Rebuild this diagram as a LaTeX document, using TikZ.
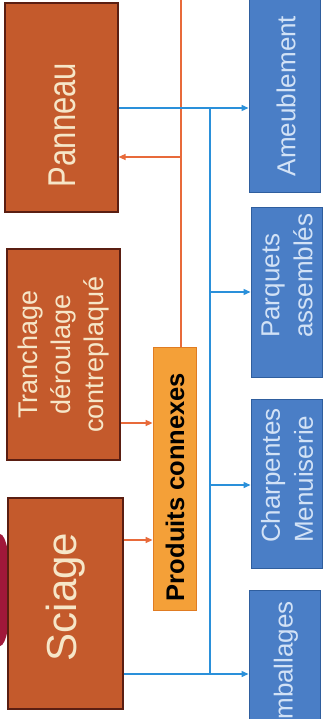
\documentclass[tikz,border=0pt]{standalone}
\usepackage{fontspec}
\setmainfont{Liberation Sans}
\usetikzlibrary{arrows.meta}
\definecolor{brownfill}{HTML}{C45A2C}
\definecolor{browndraw}{HTML}{5A1E12}
\definecolor{browntext}{HTML}{F6E6C8}
\definecolor{bluefill}{HTML}{4A7EC6}
\definecolor{bluedraw}{HTML}{2F5E9E}
\definecolor{bluetext}{HTML}{D2E2F6}
\definecolor{orfill}{HTML}{F4A038}
\definecolor{ordraw}{HTML}{E07C22}
\definecolor{bline}{HTML}{2A90DA}
\definecolor{oline}{HTML}{E86A3A}
\definecolor{blob}{HTML}{A0183A}
\tikzset{
  brownbox/.style={draw=browndraw, fill=brownfill, line width=1.2pt, inner sep=0pt},
  bluebox/.style={draw=bluedraw, fill=bluefill, line width=1pt, inner sep=0pt},
  orbox/.style={draw=ordraw, fill=orfill, line width=0.8pt, inner sep=0pt},
  browntxt/.style={rotate=90, text=browntext, align=center, font=\fontsize{27}{33}\selectfont},
  bluetxt/.style={rotate=90, text=bluetext, align=left, inner sep=0pt, font=\fontsize{26}{33}\selectfont},
  bluearrow/.style={draw=bline, line width=1.4pt, -{Triangle[length=7pt,width=6pt]}},
  orarrow/.style={draw=oline, line width=1.3pt, -{Triangle[length=7pt,width=6pt]}},
  bluelink/.style={draw=bline, line width=1.4pt},
  orlink/.style={draw=oline, line width=1.4pt}
}
\begin{document}
\begin{tikzpicture}[x=1pt,y=-1pt]
\useasboundingbox (0,0) rectangle (326,719);
\clip (0,0) rectangle (326,719);
\fill[white] (0,0) rectangle (326,719);
% fragment at left edge
\fill[blob] (0,590) ellipse [x radius=11, y radius=56];
% brown boxes
\node[brownbox, minimum width=113pt, minimum height=209pt] (panneau) at (61.5,107.5) {};
\node[browntxt] (panneautxt) at (62,125) {\scalebox{1}[1.25]{\fontsize{31}{31}\selectfont Panneau}};
\node[brownbox, minimum width=113pt, minimum height=211pt] (tranchage) at (63.5,354.5) {};
\node[browntxt] (tranchagetxt) at (tranchage.center) {Tranchage\\déroulage\\contreplaqué};
\node[brownbox, minimum width=115pt, minimum height=211pt] (sciage) at (65.5,603.5) {};
\node[browntxt] (sciagetxt) at (65.5,597) {\fontsize{42}{42}\selectfont Sciage};
% produits connexes
\node[orbox, minimum width=43pt, minimum height=263pt] (produits) at (174.5,478.5) {};
\node[rotate=90, font=\bfseries\fontsize{25.5}{26}\selectfont, text=black] (produitstxt) at (175,487) {Produits connexes};
% blue boxes
\node[bluebox, minimum width=71pt, minimum height=203pt] (ameub) at (284.5,91.5) {};
\node[bluetxt] (ameubtxt) at (286,96) {Ameublement};
\node[bluebox, minimum width=71pt, minimum height=169pt] (parquets) at (286.5,292.5) {};
\node[bluetxt, anchor=west] (parquetstxt) at (287,338) {Parquets\\assemblés};
\node[bluebox, minimum width=71pt, minimum height=169pt] (charp) at (286.5,483.5) {};
\node[bluetxt, anchor=west] (charptxt) at (287,543) {Charpentes\\Menuiserie};
\node[bluebox, minimum width=71pt, minimum height=158pt] (emb) at (284.5,669) {};
\node[bluetxt] (embtxt) at (286,669) {Emballages};
% coordinates
\coordinate (otop) at (181,-2);
\coordinate (ojoin) at (181,157);
\coordinate (bjointop) at (210,108);
\coordinate (bjoinbot) at (210,674);
\coordinate (bj2) at (210,292);
\coordinate (bj3) at (210,485);
% orange links
\draw[orlink] (otop) -- (produits.north -| otop);
\draw[orarrow] (ojoin) -- (ojoin -| panneau.east);
\draw[orarrow] (tranchage.east |- 0,423) -- (produits.west |- 0,423);
\draw[orarrow] (sciage.east |- 0,540) -- (produits.west |- 0,540);
% blue links
\draw[bluearrow] (panneau.east |- bjointop) -- (ameub.west |- bjointop);
\draw[bluelink] (bjointop) -- (bjoinbot);
\draw[bluearrow] (bj2) -- (parquets.west |- bj2);
\draw[bluearrow] (bj3) -- (charp.west |- bj3);
\draw[bluearrow] (sciage.east |- bjoinbot) -- (emb.west |- bjoinbot);
\end{tikzpicture}
\end{document}
